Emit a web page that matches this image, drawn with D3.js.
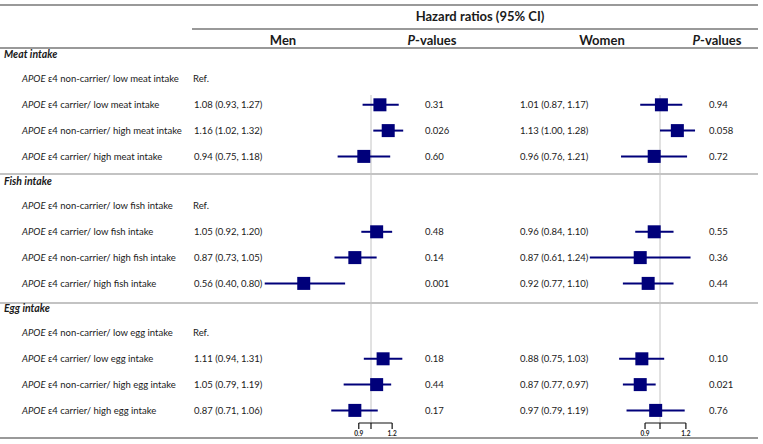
<!DOCTYPE html>
<html>
<head>
<meta charset="utf-8">
<script src="https://cdn.jsdelivr.net/npm/d3@7"></script>
<style>
  body { margin: 0; background: #fff; }
  text { font-family: Lato, "Open Sans", sans-serif; fill: #1a1a1a; }
</style>
</head>
<body>
<script>
// forest plot: APOE e4 x intake, hazard ratios for men and women

var groups = ["Meat intake", "Fish intake", "Egg intake"];
var foods = ["meat", "fish", "egg"];
var rowKinds = ["non-carrier/ low", "carrier/ low", "non-carrier/ high", "carrier/ high"];

var menHR  = [null, 1.08, 1.16, 0.94,  null, 1.05, 0.87, 0.56,  null, 1.11, 1.05, 0.87];
var menLo  = [null, 0.93, 1.02, 0.75,  null, 0.92, 0.73, 0.40,  null, 0.94, 0.79, 0.71];
var menHi  = [null, 1.27, 1.32, 1.18,  null, 1.20, 1.05, 0.80,  null, 1.31, 1.19, 1.06];
var menP   = ["", "0.31", "0.026", "0.60",  "", "0.48", "0.14", "0.001",  "", "0.18", "0.44", "0.17"];

var womenHR = [null, 1.01, 1.13, 0.96,  null, 0.96, 0.87, 0.92,  null, 0.88, 0.87, 0.97];
var womenLo = [null, 0.87, 1.00, 0.76,  null, 0.84, 0.61, 0.77,  null, 0.75, 0.77, 0.79];
var womenHi = [null, 1.17, 1.28, 1.21,  null, 1.10, 1.24, 1.10,  null, 1.03, 0.97, 1.19];
var womenP  = ["", "0.94", "0.058", "0.72",  "", "0.55", "0.36", "0.44",  "", "0.10", "0.021", "0.76"];

var axisTicks = [0.9, 1.0, 1.2];
var axisLabels = ["0.9", "", "1.2"];

var W = 763, H = 444;
var svg = d3.select("body").append("svg").attr("width", W).attr("height", H);

// log scales, 1.0 sits at the vertical reference line
var xMen = d3.scaleLog().domain([0.5, 1.5]).range([371 + 116 * Math.log(0.5), 371 + 116 * Math.log(1.5)]);
var xWomen = d3.scaleLog().domain([0.5, 1.5]).range([660 + 142 * Math.log(0.5), 660 + 142 * Math.log(1.5)]);

var yGroup = d3.scaleLinear().domain([0, 1]).range([79, 206]);
function yRow(i) { return yGroup(Math.floor(i / 4)) + (i % 4) * 25.8; }

var navy = "#00007a";

// rules
function hline(x1, x2, y, c, w) {
  svg.append("line").attr("x1", x1).attr("x2", x2).attr("y1", y).attr("y2", y)
     .attr("stroke", c).attr("stroke-width", w);
}
hline(0, 758, 5, "#777", 1.5);
hline(192, 758, 29, "#777", 1.5);
hline(0, 758, 48, "#777", 1.5);
hline(0, 758, 174, "#888", 1.2);
hline(0, 758, 303, "#888", 1.2);
hline(0, 758, 438, "#777", 1.5);

// headers
svg.append("text").attr("x", 480).attr("y", 16).attr("dy", "0.35em").attr("text-anchor", "middle")
   .style("font-weight", "bold").style("font-size", "13px").text("Hazard ratios (95% CI)");
var heads = [["Men", 283, false], ["-values", 432, true], ["Women", 602, false], ["-values", 717, true]];
heads.forEach(function (h) {
  var t = svg.append("text").attr("x", h[1]).attr("y", 40).attr("dy", "0.35em").attr("text-anchor", "middle")
     .style("font-weight", "bold").style("font-size", "13px");
  if (h[2]) {
    t.append("tspan").style("font-style", "italic").text("P");
    t.append("tspan").text(h[0]);
  } else t.text(h[0]);
});

// reference lines
[xMen, xWomen].forEach(function (x) {
  svg.append("line").attr("x1", x(1)).attr("x2", x(1)).attr("y1", 95).attr("y2", 423)
     .attr("stroke", "#c4c4c4").attr("stroke-width", 1);
});

// group titles
groups.forEach(function (g, gi) {
  svg.append("text").attr("x", 4).attr("y", yGroup(gi) - 25).attr("dy", "0.35em")
     .style("font-weight", "bold").style("font-style", "italic").style("font-size", "10.5px").text(g);
});

// rows
var rows = d3.range(12);
rows.forEach(function (i) {
  var y = yRow(i);
  var food = foods[Math.floor(i / 4)];
  var t = svg.append("text").attr("x", 22).attr("y", y).attr("dy", "0.35em").style("font-size", "9.5px");
  t.append("tspan").style("font-style", "italic").text("APOE");
  t.append("tspan").text(" \u03b54 " + rowKinds[i % 4] + " " + food + " intake");

  if (menHR[i] == null) {
    svg.append("text").attr("x", 193).attr("y", y).attr("dy", "0.35em").style("font-size", "9.5px").text("Ref.");
    return;
  }
  var fmt = d3.format(".2f");
  svg.append("text").attr("x", 194).attr("y", y).attr("dy", "0.35em").style("font-size", "9.5px")
     .text(fmt(menHR[i]) + " (" + fmt(menLo[i]) + ", " + fmt(menHi[i]) + ")");
  svg.append("text").attr("x", 425).attr("y", y).attr("dy", "0.35em").style("font-size", "9.5px").text(menP[i]);
  svg.append("text").attr("x", 520).attr("y", y).attr("dy", "0.35em").style("font-size", "9.5px")
     .text(fmt(womenHR[i]) + " (" + fmt(womenLo[i]) + ", " + fmt(womenHi[i]) + ")");
  svg.append("text").attr("x", 709).attr("y", y).attr("dy", "0.35em").style("font-size", "9.5px").text(womenP[i]);
});

function drawForest(x, hr, lo, hi) {
  var d = rows.filter(function (i) { return hr[i] != null; });
  svg.append("g").selectAll("line").data(d).enter().append("line")
     .attr("x1", function (i) { return x(lo[i]); })
     .attr("x2", function (i) { return x(hi[i]); })
     .attr("y1", function (i) { return yRow(i); })
     .attr("y2", function (i) { return yRow(i); })
     .attr("stroke", navy).attr("stroke-width", 2);
  var s = 13;
  svg.append("g").selectAll("rect").data(d).enter().append("rect")
     .attr("x", function (i) { return x(hr[i]) - s / 2; })
     .attr("y", function (i) { return yRow(i) - s / 2; })
     .attr("width", s).attr("height", s)
     .attr("fill", navy);
}
drawForest(xMen, menHR, menLo, menHi);
drawForest(xWomen, womenHR, womenLo, womenHi);

// small bracket axes
[xMen, xWomen].forEach(function (x) {
  var g = svg.append("g");
  g.append("line").attr("x1", x(0.9)).attr("x2", x(1.2)).attr("y1", 423).attr("y2", 423)
   .attr("stroke", "#111").attr("stroke-width", 1.2);
  g.selectAll(".tk").data(axisTicks).enter().append("line")
   .attr("x1", function (d) { return x(d); }).attr("x2", function (d) { return x(d); })
   .attr("y1", 423).attr("y2", 429).attr("stroke", "#111").attr("stroke-width", 1.2);
  g.selectAll(".lb").data(axisTicks).enter().append("text")
   .attr("x", function (d) { return x(d); }).attr("y", 434).attr("dy", "0.35em")
   .attr("text-anchor", "middle").style("font-size", "6.5px").style("font-weight", "bold")
   .text(function (d, j) { return axisLabels[j]; });
});
</script>
</body>
</html>
